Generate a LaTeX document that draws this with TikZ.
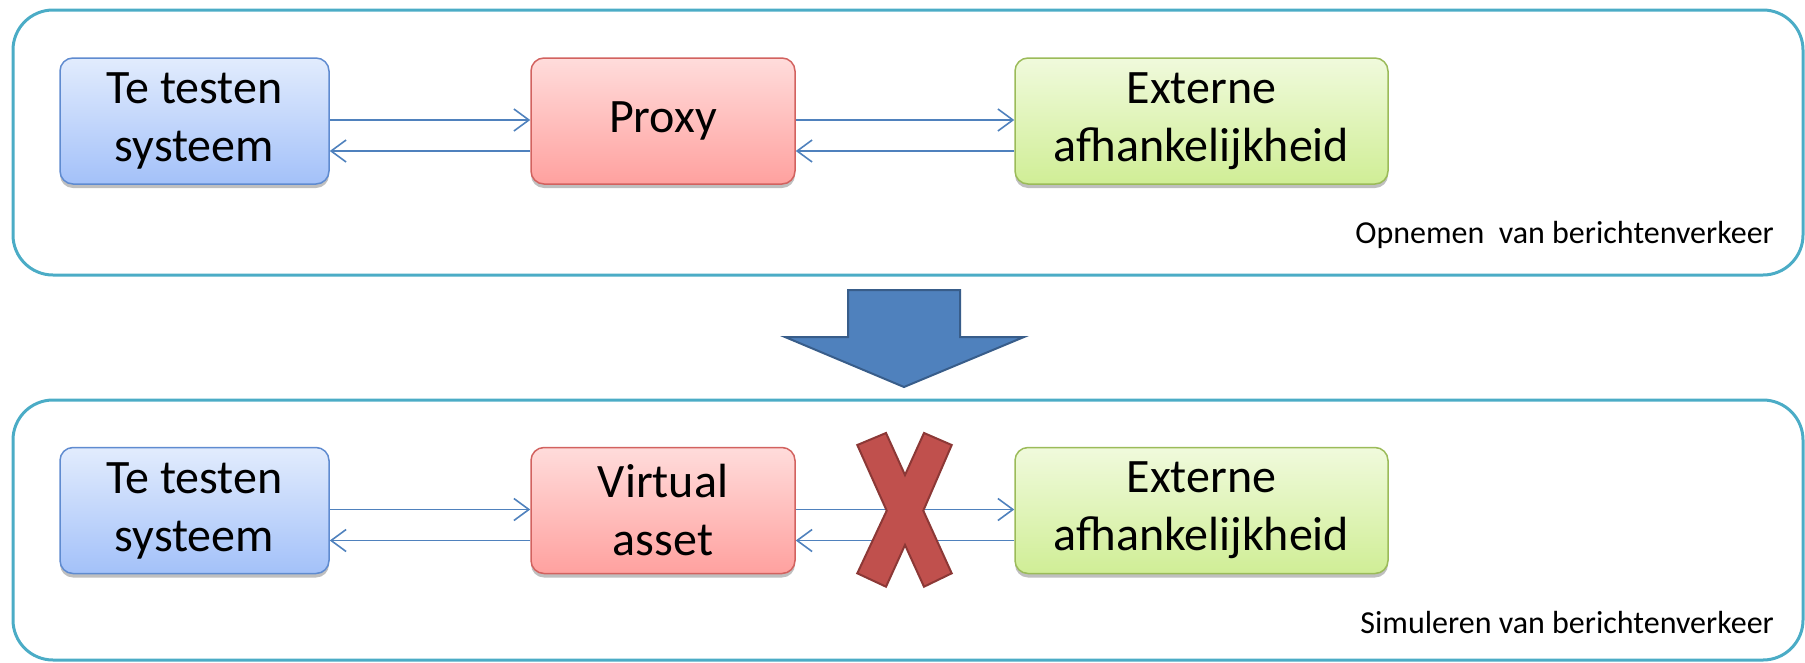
\documentclass[tikz,border=0pt]{standalone}
\usepackage{fontspec}
\setmainfont{Carlito}
\usetikzlibrary{arrows.meta,shadows}
\definecolor{panelcol}{HTML}{4BACC6}
\definecolor{conncol}{HTML}{4F81BD}
\definecolor{bluetop}{HTML}{E2ECFD}
\definecolor{bluebot}{HTML}{A3C1F9}
\definecolor{blueborder}{HTML}{5F8BD0}
\definecolor{redtop}{HTML}{FFDCDB}
\definecolor{redbot}{HTML}{FFA19F}
\definecolor{redborder}{HTML}{D2625F}
\definecolor{greentop}{HTML}{F0FADC}
\definecolor{greenbot}{HTML}{D0EE96}
\definecolor{greenborder}{HTML}{9BBB59}
\definecolor{bigarrow}{HTML}{4F81BD}
\definecolor{bigarrowborder}{HTML}{385D8A}
\definecolor{xfill}{HTML}{C0504D}
\definecolor{xborder}{HTML}{8C3836}
\begin{document}
\begin{tikzpicture}[x=1pt,y=-1pt,
  panelbox/.style={draw=panelcol, line width=3pt, rounded corners=40pt},
  sbox/.style={rounded corners=13pt, line width=1.5pt, minimum height=126pt,
    inner sep=0pt, align=center, text=black,
    font=\fontsize{48}{58}\selectfont,
    drop shadow={shadow xshift=0pt, shadow yshift=-4pt, opacity=0.25, fill=black}},
  bluebox/.style={sbox, draw=blueborder, top color=bluetop, bottom color=bluebot, minimum width=269pt},
  redbox/.style={sbox, draw=redborder, top color=redtop, bottom color=redbot, minimum width=264pt},
  greenbox/.style={sbox, draw=greenborder, top color=greentop, bottom color=greenbot, minimum width=373pt},
  conn/.style={draw=conncol, line width=1.6pt, -{Straight Barb[length=15pt,width=22pt,line width=1.6pt]}},
  panellabel/.style={anchor=base east, inner sep=0pt, font=\fontsize{32}{38}\selectfont, text=black},
]
\useasboundingbox (0,0) rectangle (1805,662);

% panels
\draw[panelbox] (13,10) rectangle (1803,275);
\draw[panelbox] (13,400) rectangle (1803,660);

% top row
\node[bluebox] (b1) at (194.5,121) {Te testen\\systeem};
\node[redbox] (r1) at (663,121) {Proxy};
\node[greenbox] (g1) at (1201.5,121) {Externe\\afhankelijkheid};

\draw[conn] ([yshift=1pt]b1.east) -- ([yshift=1pt]r1.west);
\draw[conn] ([yshift=-30pt]r1.west) -- ([yshift=-30pt]b1.east);
\draw[conn] ([yshift=1pt]r1.east) -- ([yshift=1pt]g1.west);
\draw[conn] ([yshift=-30pt]g1.west) -- ([yshift=-30pt]r1.east);

\node[panellabel] (l1) at (1774,243) {Opnemen\ \ van berichtenverkeer};

% big arrow
\draw[fill=bigarrow, draw=bigarrowborder, line width=2pt, line join=miter]
  (848,290) -- (960,290) -- (960,337) -- (1024,337) -- (904,387) -- (785,337) -- (848,337) -- cycle;

% bottom row
\node[bluebox] (b2) at (194.5,510.5) {Te testen\\systeem};
\node[redbox] (r2) at (663,510.5) {Virtual\\asset};
\node[greenbox] (g2) at (1201.5,510.5) {Externe\\afhankelijkheid};

\draw[conn] ([yshift=1pt]b2.east) -- ([yshift=1pt]r2.west);
\draw[conn] ([yshift=-30pt]r2.west) -- ([yshift=-30pt]b2.east);
\draw[conn] ([yshift=1pt]r2.east) -- ([yshift=1pt]g2.west);
\draw[conn] ([yshift=-30pt]g2.west) -- ([yshift=-30pt]r2.east);

% cross
\draw[fill=xfill, draw=xborder, line width=2pt, line join=miter]
  (886,433) -- (905,475) -- (924,433) -- (951.7,445) -- (923.3,510.7) -- (951.7,573.3)
  -- (924,586.7) -- (905,545) -- (886,586.7) -- (857.3,573.3) -- (886.7,510.7) -- (857.3,445) -- cycle;

\node[panellabel] (l2) at (1774,633) {Simuleren van berichtenverkeer};
\end{tikzpicture}
\end{document}
